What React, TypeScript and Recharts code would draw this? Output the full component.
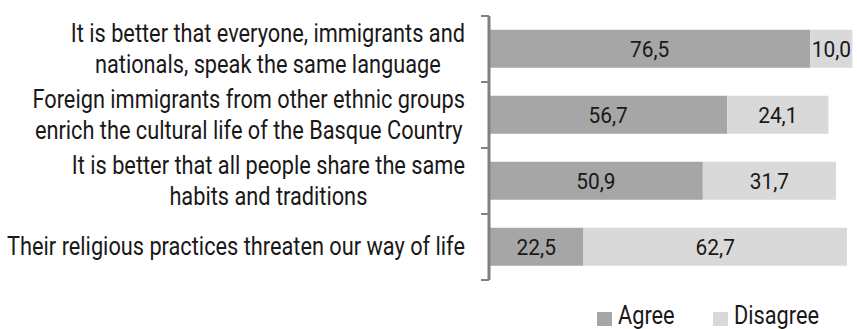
import React from "react";
import { BarChart, Bar, XAxis, YAxis, Legend, LabelList } from "recharts";

const categories = [
  "It is better that everyone, immigrants and\nnationals, speak the same language",
  "Foreign immigrants from other ethnic groups\nenrich the cultural life of the Basque Country",
  "It is better that all people share the same\nhabits and traditions",
  "Their religious practices threaten our way of life",
];
const agreeValues = [76.5, 56.7, 50.9, 22.5];
const disagreeValues = [10.0, 24.1, 31.7, 62.7];
const seriesNames = ["Agree", "Disagree"];
const seriesColors = ["#a6a6a6", "#d9d9d9"];

const data = categories.map((name, i) => ({
  name,
  agree: agreeValues[i],
  disagree: disagreeValues[i],
}));

const W = 857;
const H = 329;
const AXIS_X = 489;
const LABEL_RIGHT = 465;
const TOP = 16;
const PLOT_BOTTOM = 280;
const BAND = (PLOT_BOTTOM - TOP) / categories.length;
const FONT = "Roboto, 'Liberation Sans', sans-serif";
const TEXT_COLOR = "#1a1818";
const SX = 0.87;
const LABEL_SIZE = 25;

const fmt = (v: number) => v.toFixed(1).replace(".", ",");

let ctx: CanvasRenderingContext2D | null = null;
const measure = (s: string) => {
  if (!ctx) {
    const c = document.createElement("canvas");
    ctx = c.getContext("2d");
  }
  if (!ctx) return s.length * 10;
  ctx.font = `${LABEL_SIZE}px Roboto`;
  return ctx.measureText(s).width * SX;
};

const CategoryTick = (props: any) => {
  const { y, payload, index } = props;
  const lines: string[] = String(payload.value).split("\n");
  const n = lines.length;
  const blockW = Math.max(...lines.map(measure));
  const cx = LABEL_RIGHT - blockW / 2;
  return (
    <g>
      {lines.map((ln, i) => (
        <text
          key={i}
          transform={`translate(${cx},${y + 8 + (i - (n - 1) / 2) * 31}) scale(${SX},1)`}
          textAnchor="middle"
          fontFamily={FONT}
          fontSize={LABEL_SIZE}
          fill={TEXT_COLOR}
        >
          {ln}
        </text>
      ))}
      <line x1={AXIS_X - 8} x2={AXIS_X} y1={y - BAND / 2} y2={y - BAND / 2} stroke="#808080" strokeWidth={2} />
      {index === categories.length - 1 && (
        <line x1={AXIS_X - 8} x2={AXIS_X} y1={y + BAND / 2} y2={y + BAND / 2} stroke="#808080" strokeWidth={2} />
      )}
    </g>
  );
};

const ValueLabel = (props: any) => {
  const { x, y, width, height, value } = props;
  return (
    <text
      transform={`translate(${x + width / 2},${y + height / 2 + 8}) scale(0.95,1)`}
      textAnchor="middle"
      fontFamily={FONT}
      fontSize={22}
      fill={TEXT_COLOR}
    >
      {fmt(Number(value))}
    </text>
  );
};

const LegendContent = () => {
  const items = [
    { sq: 597, tx: 618 },
    { sq: 713, tx: 734 },
  ];
  return (
    <div style={{ position: "relative", width: W, height: 24 }}>
      {items.map((it, i) => (
        <React.Fragment key={i}>
          <div
            style={{
              position: "absolute",
              left: it.sq,
              top: 7,
              width: 15,
              height: 14,
              background: seriesColors[i],
            }}
          />
          <span
            style={{
              position: "absolute",
              left: it.tx,
              top: -1,
              fontFamily: FONT,
              fontSize: 25,
              lineHeight: "24px",
              color: TEXT_COLOR,
              transform: `scaleX(${SX})`,
              transformOrigin: "left",
              whiteSpace: "nowrap",
            }}
          >
            {seriesNames[i]}
          </span>
        </React.Fragment>
      ))}
    </div>
  );
};

export default function App() {
  return (
    <div style={{ position: "absolute", left: 0, top: 0, width: W, height: H, background: "#fff" }}>
      <BarChart
        width={W}
        height={H}
        data={data}
        layout="vertical"
        margin={{ top: TOP, right: 0, bottom: 25, left: 0 }}
        barCategoryGap="21%"
      >
        <XAxis type="number" hide domain={[0, 87.6]} />
        <YAxis
          type="category"
          dataKey="name"
          width={AXIS_X}
          axisLine={{ stroke: "#808080", strokeWidth: 3 }}
          tickLine={false}
          tick={<CategoryTick />}
          interval={0}
        />
        <Legend
          verticalAlign="bottom"
          content={<LegendContent />}
          wrapperStyle={{ left: 0, bottom: 0, width: W, height: 24 }}
        />
        <Bar dataKey="agree" stackId="a" fill={seriesColors[0]} isAnimationActive={false}>
          <LabelList dataKey="agree" content={<ValueLabel />} />
        </Bar>
        <Bar dataKey="disagree" stackId="a" fill={seriesColors[1]} isAnimationActive={false}>
          <LabelList dataKey="disagree" content={<ValueLabel />} />
        </Bar>
      </BarChart>
    </div>
  );
}
